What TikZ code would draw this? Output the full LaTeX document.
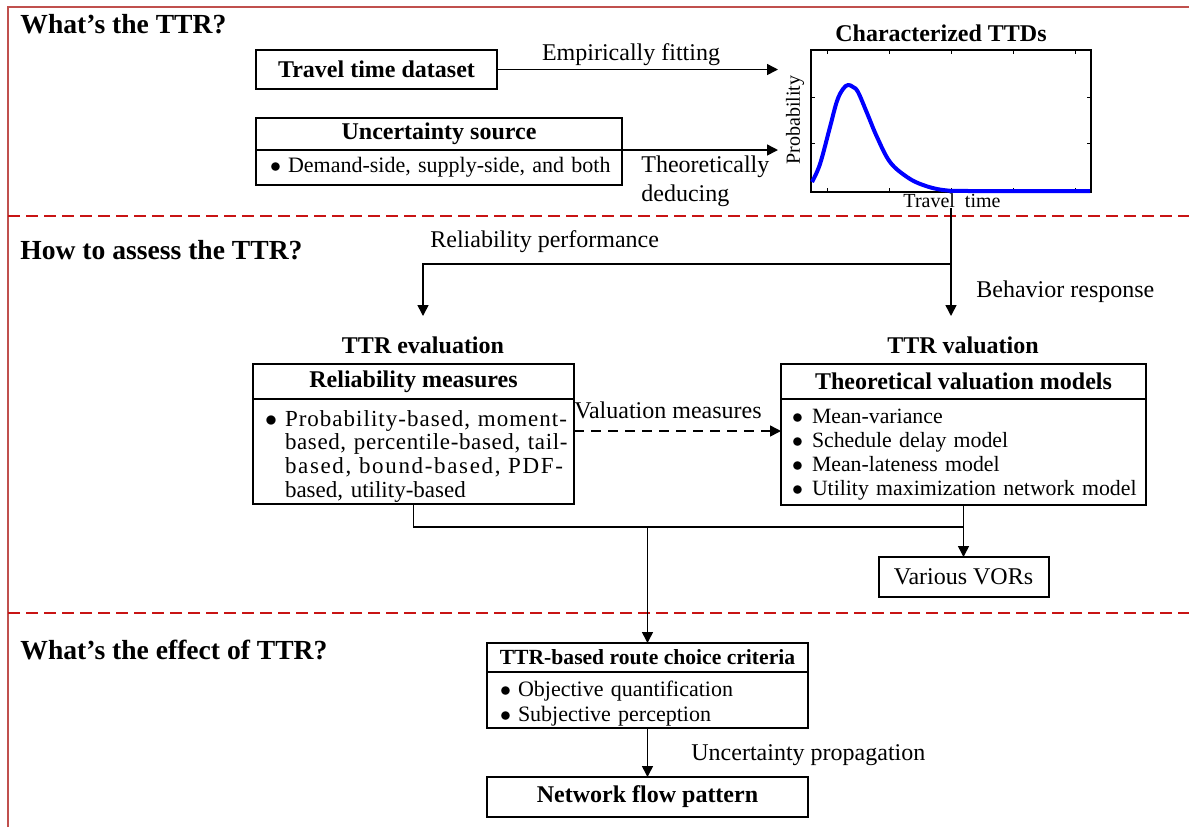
\documentclass[tikz,border=0pt]{standalone}
\usepackage{fontspec}
\setmainfont{Liberation Serif}
\usepackage{tikz}
\usetikzlibrary{arrows.meta,positioning}

\definecolor{framered}{RGB}{192,80,77}
\definecolor{cutred}{RGB}{200,20,20}

\newcommand{\bul}[1][9pt]{\makebox[#1][l]{$\bullet$}}

\begin{document}
\begin{tikzpicture}[x=0.5pt,y=-0.5pt]
\tikzstyle{every node}+=[inner sep=0pt]
\tikzstyle{sechead}=[anchor=west, font=\bfseries\fontsize{13.8}{16}\selectfont]
\tikzstyle{hbox}=[draw, line width=1pt, outer sep=0pt, font=\bfseries\fontsize{12}{14}\selectfont]
\tikzstyle{ttl}=[font=\bfseries\fontsize{12}{14}\selectfont]
\tikzstyle{bbox}=[draw, line width=1pt, outer sep=0pt, anchor=north, align=left, font=\fontsize{11}{12}\selectfont]
\tikzstyle{lbl}=[font=\fontsize{12}{14}\selectfont]
\tikzstyle{conn}=[line width=0.75pt]
\tikzstyle{arr}=[conn, -{Triangle[length=5.5pt,width=5.5pt]}]
\tikzstyle{sepline}=[cutred, line width=0.8pt, dash pattern=on 6pt off 3pt]

\useasboundingbox (0,0) rectangle (1189,827);

% frame and the two cuts
\draw [framered, line width=0.8pt] (8,827) -- (8,7) -- (1189,7);
\draw [sepline] (8,216) -- (1189,216);
\draw [sepline] (8,613) -- (1189,613);

\node [sechead] (q1) at (20,24) {What's the TTR?};
\node [sechead] (q2) at (20,250) {How to assess the TTR?};
\node [sechead] (q3) at (20,650) {What's the effect of TTR?};

% what's the TTR
\node [hbox, minimum width=120.5pt, minimum height=19.5pt] (ttd) at (376.5,69.5) {Travel time dataset};
\node [hbox, minimum width=183pt, minimum height=16pt] (usrc) at (439,134) {Uncertainty source};
\node [bbox, text width=169pt, inner xsep=7pt, text height=11pt, text depth=6.5pt] (usrcb) at (usrc.south) {\bul\mbox{Demand-side, supply-side, and both}};

\node [draw, line width=0.7pt, outer sep=0pt, minimum width=140pt, minimum height=71pt] (plot) at (951,121) {};
\foreach \tx in {827,889,951,1013,1075} {
  \draw [line width=0.5pt] (\tx,50) -- (\tx,54);
  \draw [line width=0.5pt] (\tx,192) -- (\tx,188);
}
\foreach \ty in {97,143} {
  \draw [line width=0.5pt] (811,\ty) -- (815,\ty);
  \draw [line width=0.5pt] (1091,\ty) -- (1087,\ty);
}
\draw [blue, line width=2pt, line join=round] plot [smooth, tension=0.6] coordinates {(812,182) (820,164) (830,127) (837,101) (843,89) (848,85) (853,87) (858,92) (867,113) (877,137) (890,162) (907,177) (923,185) (943,190) (970,191) (1090,191)};
\node [ttl] (plotttl) at (941,33) {Characterized TTDs};
\node [font=\fontsize{10}{12}\selectfont] (xlab) at (952,201) {Travel\ \ time};
\node [font=\fontsize{10}{12}\selectfont, rotate=90] (ylab) at (795,120) {Probability};

\coordinate (fitin) at (778,69.5);
\draw [arr] (ttd.east) -- (ttd.east -| fitin);
\draw [arr] (usrc.south east) -- (usrc.south east -| fitin);
\node [lbl] (fitlbl) at (631,55) {Empirically fitting};
\node [lbl, anchor=west, align=left, font=\fontsize{12}{14.5}\selectfont] (dedlbl) at (641,181) {Theoretically\\deducing};

% how to assess the TTR
\coordinate (split) at (951,264);
\coordinate (evalin) at (423,316);
\draw [arr] (xlab.south -| split) -- (split) -| (evalin);
\draw [arr] (split) -- (split |- evalin);
\node [lbl, anchor=west] (rplbl) at (430,242) {Reliability performance};
\node [lbl, anchor=west] (brlbl) at (976,292) {Behavior response};

\node [ttl] (evalttl) at (423,345) {TTR evaluation};
\node [ttl] (valttl) at (963,345) {TTR valuation};

\node [hbox, minimum width=160.5pt, minimum height=17.5pt] (relm) at (413.5,381.5) {Reliability measures};
\node [bbox, text width=148.5pt, inner xsep=6pt, text height=13.5pt, text depth=39pt, font=\fontsize{11.5}{11.9}\selectfont] (relb) at (relm.south) {\bul[10pt]\parbox[t]{141pt}{{\addfontfeature{LetterSpace=4.4}Probability-based, moment-}\\{\addfontfeature{LetterSpace=2.7}based, percentile-based, tail-}\\{\addfontfeature{LetterSpace=7.2}based, bound-based, PDF-}\\based, utility-based}};

\node [hbox, minimum width=182.5pt, minimum height=17.5pt] (valm) at (963.5,381.5) {Theoretical valuation models};
\node [bbox, text width=171.5pt, inner xsep=5.5pt, text height=12pt, text depth=41pt, font=\fontsize{10.9}{12}\selectfont] (valb) at (valm.south) {\bul[10pt]\mbox{Mean-variance}\\\bul[10pt]\mbox{Schedule delay model}\\\bul[10pt]\mbox{Mean-lateness model}\\\bul[10pt]\mbox{Utility maximization network model}};

\coordinate (vm) at (0,431);
\draw [arr, dash pattern=on 5pt off 3.5pt] (relb.east |- vm) -- (valb.west |- vm);
\node [lbl] (vmlbl) at (668,410) {Valuation measures};

\coordinate (join) at (0,527);
\node [draw, line width=1pt, outer sep=0pt, minimum width=85pt, minimum height=20pt, lbl] (vors) at (963.5,577) {Various VORs};
\draw [conn] (relb.south) -- (relb.south |- join) -- (valb.south |- join);
\draw [arr] (valb.south) -- (vors.north);

% what's the effect of TTR
\node [hbox, minimum width=160.5pt, minimum height=14.5pt, font=\bfseries\fontsize{10.8}{12}\selectfont] (route) at (647.5,657.5) {TTR-based route choice criteria};
\node [bbox, text width=147.5pt, inner xsep=6.5pt, text height=12pt, text depth=16pt, font=\fontsize{11}{12.5}\selectfont] (routeb) at (route.south) {\bul\mbox{Objective quantification}\\\bul\mbox{Subjective perception}};
\draw [arr] (route.north |- join) -- (route.north);

\node [hbox, minimum width=160.5pt, minimum height=20pt] (netw) at (647.5,797) {Network flow pattern};
\draw [arr] (routeb.south) -- (netw.north);
\node [lbl, anchor=west] (uplbl) at (691,755) {Uncertainty propagation};
\end{tikzpicture}
\end{document}
